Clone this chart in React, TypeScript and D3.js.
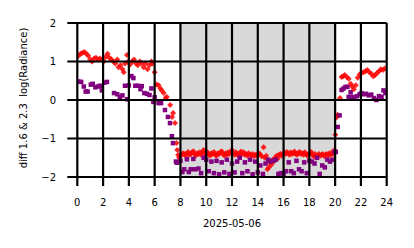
import React from "react";
import * as d3 from "d3";

const redHours = [0.1,0.25,0.4,0.55,0.7,0.85,1.0,1.15,1.3,1.45,1.6,1.75,1.9,2.05,2.2,2.35,2.5,2.65,2.8,2.95,3.1,3.2,3.35,3.5,3.6,3.7,3.85,3.95,4.1,4.25,4.4,4.55,4.7,4.85,5.0,5.15,5.3,5.45,5.6,5.75,5.85,6.0,6.15,6.3,6.45,6.55,6.7,6.85,6.95,7.2,7.35,7.43,7.58,7.7,7.76,7.82,7.9,
8.0,8.1,8.2,8.3,8.4,8.5,8.6,8.7,8.8,8.9,9.0,9.1,9.2,9.3,9.4,9.5,9.6,9.7,9.8,9.9,10.0,10.1,10.2,10.3,10.4,10.5,10.6,10.7,10.8,10.9,11.0,11.1,11.2,11.3,11.4,11.5,11.6,11.7,11.8,11.9,12.0,12.1,12.2,12.3,12.4,12.5,12.6,12.7,12.8,12.9,13.0,13.1,13.2,13.3,13.4,13.5,13.6,13.7,13.8,13.9,14.0,14.1,14.2,14.3,14.45,14.55,14.65,14.75,14.85,14.95,15.05,15.15,15.25,15.35,15.45,15.55,15.65,15.75,15.85,15.95,16.05,16.15,16.25,16.35,16.45,16.55,16.65,16.75,16.85,16.95,17.05,17.15,17.25,17.35,17.45,17.55,17.65,17.75,17.85,17.95,18.05,18.15,18.25,18.35,18.45,18.55,18.65,18.75,18.85,18.95,19.05,19.15,19.25,19.35,19.45,19.55,19.65,19.75,19.85,19.95,
20.02,20.12,20.2,20.38,20.5,20.62,20.75,20.9,21.05,21.2,21.32,21.45,21.6,21.75,21.9,22.05,22.2,22.35,22.5,22.65,22.8,22.95,23.1,23.25,23.4,23.55,23.7,23.85];
const redValues = [1.15,1.2,1.22,1.25,1.2,1.15,1.05,1.0,1.08,1.1,1.05,1.08,1.05,1.0,1.12,1.2,1.1,1.05,1.0,0.95,1.05,0.85,0.9,0.8,0.72,0.95,1.17,1.0,0.92,1.0,1.05,0.95,0.9,1.0,0.95,0.85,0.95,0.8,0.9,1.0,0.95,0.72,0.4,0.38,0.3,0.25,0.18,0.05,0.08,-0.13,-0.44,-0.34,-0.6,-1.12,-1.3,-1.43,-1.5,
-1.45,-1.42,-1.38,-1.4,-1.45,-1.38,-1.35,-1.42,-1.4,-1.36,-1.33,-1.4,-1.44,-1.38,-1.4,-1.36,-1.42,-1.35,-1.3,-1.38,-1.42,-1.36,-1.4,-1.45,-1.38,-1.4,-1.35,-1.42,-1.45,-1.38,-1.4,-1.36,-1.33,-1.4,-1.44,-1.38,-1.42,-1.36,-1.4,-1.35,-1.3,-1.38,-1.42,-1.36,-1.4,-1.45,-1.38,-1.34,-1.4,-1.36,-1.42,-1.4,-1.45,-1.38,-1.42,-1.44,-1.4,-1.46,-1.42,-1.45,-1.4,-1.38,-1.42,-1.46,-1.23,-1.5,-1.45,-1.8,-1.75,-1.62,-1.68,-1.55,-1.6,-1.5,-1.45,-1.52,-1.42,-1.4,-1.45,-1.4,-1.36,-1.4,-1.35,-1.38,-1.42,-1.36,-1.4,-1.38,-1.34,-1.4,-1.42,-1.37,-1.35,-1.4,-1.38,-1.42,-1.36,-1.4,-1.45,-1.4,-1.38,-1.35,-1.42,-1.47,-1.4,-1.5,-1.44,-1.4,-1.45,-1.42,-1.4,-1.46,-1.42,-1.4,-1.44,-1.38,-1.42,-1.36,-1.4,-1.3,
-0.9,-0.45,-0.38,0.05,0.6,0.62,0.65,0.6,0.55,0.42,0.35,0.28,0.38,0.58,0.66,0.7,0.72,0.75,0.78,0.72,0.68,0.62,0.65,0.7,0.75,0.8,0.78,0.82];

const purpleHours = [0.1,0.3,0.5,0.65,0.8,1.05,1.2,1.4,1.6,1.75,1.9,2.1,2.3,2.85,3.1,3.3,3.5,3.7,3.85,4.0,4.2,4.35,4.5,4.7,4.9,5.0,5.2,5.4,5.6,5.75,5.9,6.0,6.3,6.5,6.8,7.03,7.19,7.34,7.42,7.65,7.73,
8.0,8.15,8.3,8.5,8.65,8.8,9.0,9.15,9.4,9.6,9.8,10.0,10.2,10.4,10.6,10.8,11.0,11.2,11.4,11.6,11.8,12.0,12.2,12.4,12.6,12.8,13.0,13.2,13.4,13.6,13.8,14.0,14.2,14.4,14.6,14.8,15.0,15.2,15.4,15.6,15.8,16.0,16.2,16.4,16.6,16.8,17.0,17.2,17.4,17.6,17.8,18.0,18.2,18.4,18.6,18.8,19.0,19.2,19.4,19.6,19.8,19.95,
20.05,20.2,20.35,20.5,20.65,20.8,20.95,21.05,21.2,21.35,21.5,21.7,21.9,22.05,22.2,22.4,22.6,22.8,23.0,23.2,23.4,23.6,23.75,23.9];
const purpleValues = [0.48,0.47,0.35,0.22,0.22,0.4,0.42,0.33,0.35,0.37,0.25,0.45,0.47,0.18,0.15,0.08,0.12,0.37,0.02,0.38,0.62,0.57,0.37,0.37,0.28,0.36,0.18,0.16,0.13,0.3,-0.05,0.07,-0.08,-0.08,-0.26,-0.44,-0.6,-0.94,-1.12,-1.6,-1.63,
-1.58,-1.87,-1.8,-1.54,-1.87,-1.8,-1.53,-1.8,-1.78,-1.9,-1.5,-1.55,-1.85,-1.6,-1.9,-1.58,-1.93,-1.62,-1.88,-1.55,-1.92,-1.65,-1.88,-1.6,-1.5,-1.9,-1.62,-1.85,-1.55,-1.93,-1.6,-1.88,-1.7,-1.92,-1.65,-1.55,-1.6,-1.58,-1.55,-1.92,-1.9,-1.95,-1.85,-1.62,-1.85,-1.9,-1.58,-1.8,-1.85,-1.62,-1.9,-1.58,-1.6,-1.65,-1.5,-1.92,-1.7,-1.75,-1.55,-1.6,-1.55,-1.35,
-1.35,-0.7,-0.4,0.26,0.3,0.34,0.34,0.08,0.2,0.08,0.06,0.1,0.15,0.18,0.15,0.16,0.12,0.14,0.05,0.0,0.1,0.08,0.25,0.18];

const xTicks = [0, 2, 4, 6, 8, 10, 12, 14, 16, 18, 20, 22, 24];
const yTicks = [-2, -1, 0, 1, 2];
const nightStart = 8;
const nightEnd = 20;
const xLabel = "2025-05-06";
const yLabel = "diff 1.6 & 2.3\u00a0\u00a0log(Radiance)";

export default function App() {
  const W = 414, H = 248;
  const left = 77.3, right = 386.7, top = 23, bottom = 177;
  const x = d3.scaleLinear().domain([0, 24]).range([left, right]);
  const y = d3.scaleLinear().domain([-2, 2]).range([bottom, top]);
  const font = "DejaVu Sans, sans-serif";
  const fmt = (v: number) => (v < 0 ? "\u2212" + Math.abs(v) : String(v));
  const r = 3;
  const diamond = `M0,${-r}L${r},0L0,${r}L${-r},0Z`;
  return (
    <svg width={W} height={H} style={{ position: "absolute", left: 0, top: 0, background: "#fff" }}>
      <defs>
        <clipPath id="plotclip">
          <rect x={left} y={top} width={right - left} height={bottom - top} />
        </clipPath>
      </defs>
      <rect x={left} y={top} width={right - left} height={bottom - top} fill="#fff" stroke="#cccccc" strokeWidth={1} />
      <rect x={x(nightStart)} y={top} width={x(nightEnd) - x(nightStart)} height={bottom - top} fill="#d9d9d9" />
      <g clipPath="url(#plotclip)">
        {redHours.map((h, i) => (
          <path key={"r" + i} d={diamond} transform={`translate(${x(h)},${y(redValues[i])})`} fill="#ff0000" fillOpacity={0.85} />
        ))}
        {purpleHours.map((h, i) => (
          <rect key={"p" + i} x={x(h) - 2.25} y={y(purpleValues[i]) - 2.25} width={4.5} height={4.5} fill="#800080" />
        ))}
      </g>
      {xTicks.map((t) => (
        <line key={"gx" + t} x1={x(t)} x2={x(t)} y1={top} y2={bottom + 9} stroke="#000" strokeWidth={2.2} />
      ))}
      {yTicks.map((t) => (
        <line key={"gy" + t} x1={left - 10} x2={right} y1={y(t)} y2={y(t)} stroke="#000" strokeWidth={2.2} />
      ))}
      {xTicks.map((t) => (
        <text key={"tx" + t} x={x(t)} y={205.5} textAnchor="middle" fontFamily={font} fontSize={10} fill="#000">{t}</text>
      ))}
      {yTicks.map((t) => (
        <text key={"ty" + t} x={56} y={y(t) + 3.6} textAnchor="end" fontFamily={font} fontSize={10} fill="#000">{fmt(t)}</text>
      ))}
      <text x={(left + right) / 2} y={226.5} textAnchor="middle" fontFamily={font} fontSize={10} fill="#000">{xLabel}</text>
      <text transform={`translate(27,${(top + bottom) / 2 - 2}) rotate(-90)`} textAnchor="middle" fontFamily={font} fontSize={10} fill="#000">{yLabel}</text>
    </svg>
  );
}
